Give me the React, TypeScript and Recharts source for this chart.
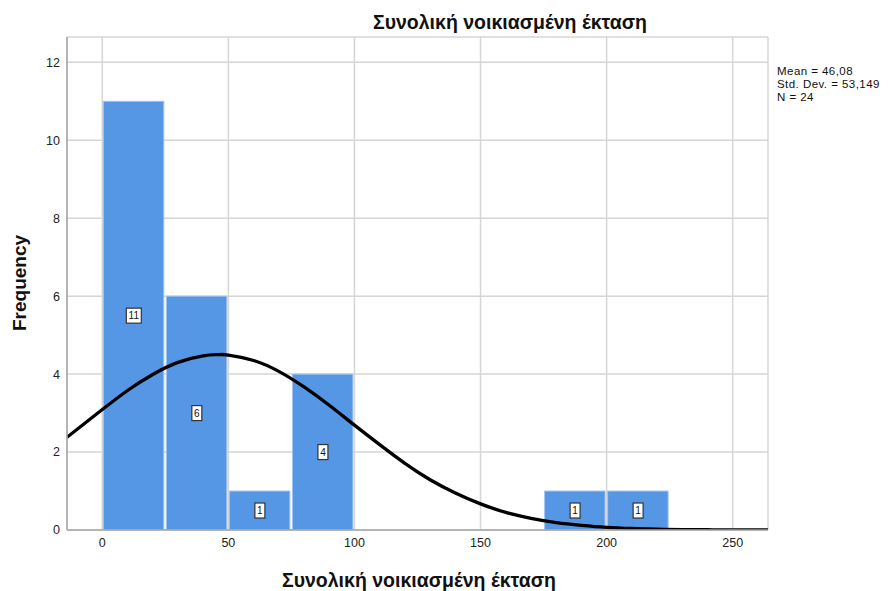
import React from 'react';
import { ComposedChart, Bar, Line, XAxis, YAxis, CartesianGrid, LabelList } from 'recharts';

const binCenters = [12.5, 37.5, 62.5, 87.5, 112.5, 137.5, 162.5, 187.5, 212.5];
const binCounts = [11, 6, 1, 4, 0, 0, 0, 1, 1];

const curveX = [-14, 0, 10, 20, 30, 40, 46, 50, 60, 70, 80, 90, 100, 110, 120, 130, 140, 150, 160, 170, 180, 190, 200, 210, 220, 230, 240, 250, 264];
const curveY = [2.38, 3.09, 3.58, 3.99, 4.3, 4.47, 4.5, 4.49, 4.35, 4.07, 3.67, 3.2, 2.69, 2.19, 1.71, 1.29, 0.95, 0.67, 0.45, 0.3, 0.19, 0.12, 0.07, 0.04, 0.02, 0.011, 0.006, 0.003, 0.001];

const xTicks = [0, 50, 100, 150, 200, 250];
const yTicks = [0, 2, 4, 6, 8, 10, 12];

const titleText = 'Συνολική νοικιασμένη έκταση';
const xLabelText = 'Συνολική νοικιασμένη έκταση';
const yLabelText = 'Frequency';
const statsLines = ['Mean = 46,08', 'Std. Dev. = 53,149', 'N = 24'];

const binRows = binCenters.map((x, i) => ({ x, count: binCounts[i] }));
const curveRows = curveX.map((x, i) => ({ x, curve: curveY[i] }));

const FONT = '"Liberation Sans", Arial, sans-serif';

const BinBar = (props: any) => {
  const { x, y, width, height } = props;
  if (!height || height <= 0) return null;
  return (
    <rect x={x + 1} y={y} width={width - 2.5} height={height} fill="#5596e5" stroke="#a3c4ef" strokeWidth={1} />
  );
};

const BinLabel = (props: any) => {
  const { x, y, width, height, value } = props;
  if (!value) return null;
  const cx = x + width / 2;
  const cy = y + height / 2;
  const w = String(value).length > 1 ? 15 : 10;
  const h = 15;
  return (
    <g>
      <rect x={cx - w / 2} y={cy - h / 2} width={w} height={h} fill="#ffffff" stroke="#333333" strokeWidth={1.2} />
      <text x={cx} y={cy + 3.5} textAnchor="middle" fontSize={10} fontFamily={FONT} fill="#111">
        {value}
      </text>
    </g>
  );
};

export default function App() {
  return (
    <div style={{ position: 'absolute', left: 0, top: 0, width: 889, height: 591, overflow: 'hidden', background: '#fff', fontFamily: FONT }}>
      <ComposedChart
        width={889}
        height={591}
        data={binRows}
        margin={{ top: 37, right: 121, bottom: 31, left: 30 }}
        barCategoryGap={0}
        barGap={0}
      >
        <CartesianGrid xAxisId="bins" stroke="#d6d6d6" strokeWidth={1.5} />
        <XAxis
          xAxisId="bins"
          dataKey="x"
          type="number"
          domain={[-14, 264]}
          allowDataOverflow
          ticks={xTicks}
          height={30}
          tickLine={false}
          tickSize={4}
          tickMargin={4}
          axisLine={{ stroke: '#a6a6a6', strokeWidth: 1.5 }}
          tick={{ fill: '#222', fontSize: 12.5, fontFamily: FONT }}
        />
        <XAxis xAxisId="curve" dataKey="x" type="number" domain={[-14, 264]} allowDataOverflow hide height={0} />
        <YAxis
          type="number"
          domain={[0, 12.65]}
          allowDataOverflow
          ticks={yTicks}
          width={37}
          tickLine={false}
          tickSize={4}
          tickMargin={3}
          axisLine={{ stroke: '#a6a6a6', strokeWidth: 1.5 }}
          tick={{ fill: '#222', fontSize: 12.5, fontFamily: FONT }}
        />
        <Bar xAxisId="bins" dataKey="count" shape={<BinBar />} isAnimationActive={false}>
          <LabelList dataKey="count" content={<BinLabel />} />
        </Bar>
        <Line
          xAxisId="curve"
          data={curveRows}
          dataKey="curve"
          type="natural"
          stroke="#000"
          strokeWidth={3.3}
          dot={false}
          activeDot={false}
          isAnimationActive={false}
        />
      </ComposedChart>
      <div style={{ position: 'absolute', left: 310, width: 400, top: 13, lineHeight: '19.5px', textAlign: 'center', fontSize: 19.5, fontWeight: 'bold', color: '#111', whiteSpace: 'nowrap' }}>
        {titleText}
      </div>
      <div style={{ position: 'absolute', left: 219, width: 400, top: 571, lineHeight: '19.5px', textAlign: 'center', fontSize: 19.5, fontWeight: 'bold', color: '#111', whiteSpace: 'nowrap' }}>
        {xLabelText}
      </div>
      <div style={{ position: 'absolute', left: 20, top: 283, width: 0, height: 0 }}>
        <div style={{ position: 'absolute', transform: 'translate(-50%, -50%) rotate(-90deg)', fontSize: 19, fontWeight: 'bold', color: '#111', whiteSpace: 'nowrap' }}>
          {yLabelText}
        </div>
      </div>
      <div style={{ position: 'absolute', left: 777, top: 65, fontSize: 11.5, lineHeight: '12.9px', letterSpacing: 0.45, color: '#111', whiteSpace: 'nowrap' }}>
        {statsLines.map((s) => (
          <div key={s} style={{ height: 12.9 }}>{s}</div>
        ))}
      </div>
    </div>
  );
}
